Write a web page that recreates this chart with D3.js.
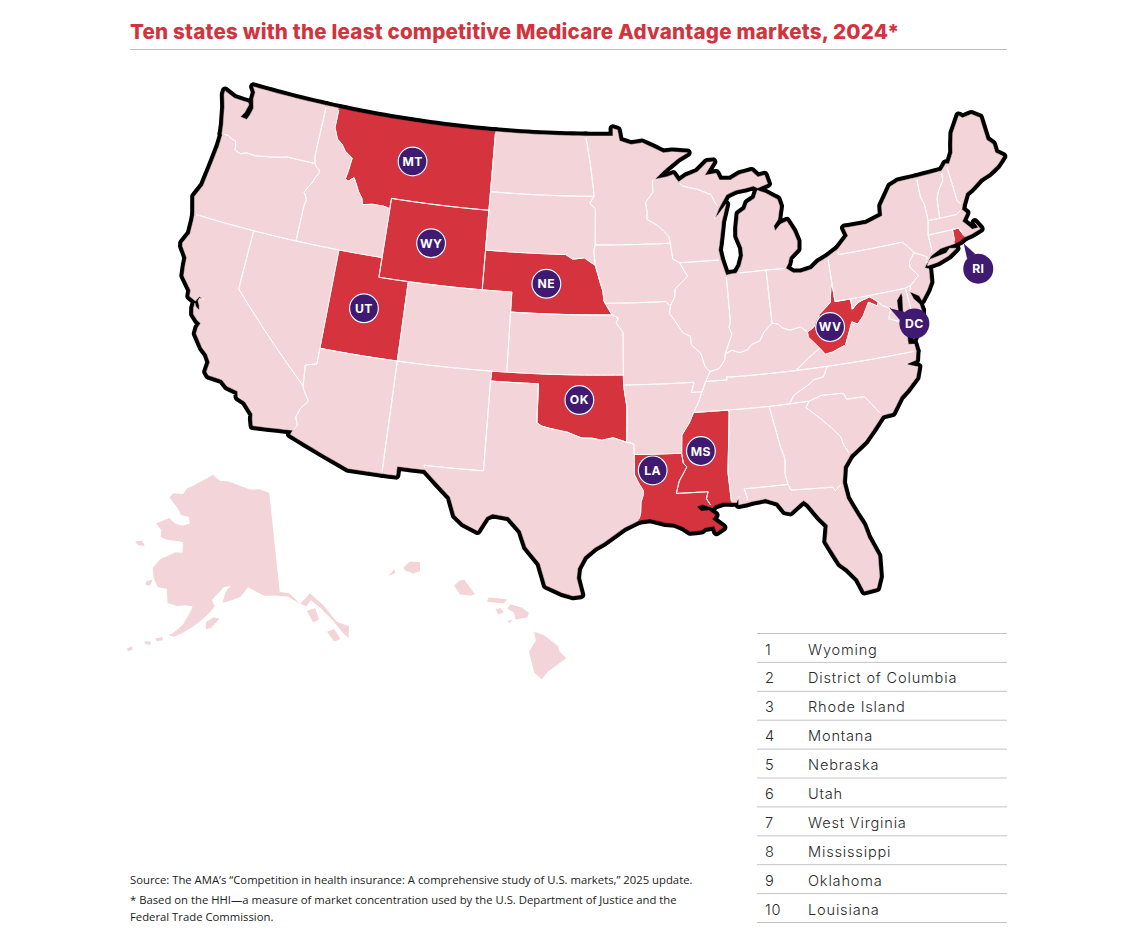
<!DOCTYPE html>
<html>
<head>
<meta charset="utf-8">
<script src="https://cdn.jsdelivr.net/npm/d3@7"></script>
<style>
  body { margin: 0; background: #fff; }
  svg { display: block; }
  .title { font-family: Inter, sans-serif; font-weight: 800; font-size: 20.6px; letter-spacing: 0.2px; fill: #d1343f; }
  .rank, .name { font-family: Inter, sans-serif; font-weight: 300; font-size: 14.6px; letter-spacing: 0.8px; fill: #2b2b2b; }
  .note { font-family: "Open Sans", sans-serif; font-size: 11.3px; fill: #222; }
  .badge text { font-family: Inter, sans-serif; font-weight: 700; font-size: 12.2px; letter-spacing: 0.4px; fill: #fff; text-anchor: middle; }
</style>
</head>
<body>
<script>
const titleText = "Ten states with the least competitive Medicare Advantage markets, 2024*";
const rankNames = ["Wyoming", "District of Columbia", "Rhode Island", "Montana", "Nebraska", "Utah", "West Virginia", "Mississippi", "Oklahoma", "Louisiana"];
const leastCompetitive = ["WY", "DC", "RI", "MT", "NE", "UT", "WV", "MS", "OK", "LA"];
const notes = [
  "Source: The AMA\u2019s \u201cCompetition in health insurance: A comprehensive study of U.S. markets,\u201d 2025 update.",
  "* Based on the HHI\u2014a measure of market concentration used by the U.S. Department of Justice and the",
  "Federal Trade Commission."
];

// badges, placed in lon/lat
const badgeCodes = ["MT", "WY", "UT", "NE", "OK", "LA", "MS", "WV", "DC", "RI"];
const badgeLon = [-109.95, -107.85, -111.7, -99.75, -97.4, -92.95, -90, -81.1, -75.7, -70.8];
const badgeLat = [47, 43.05, 39.35, 41.5, 35.75, 32.2, 33.05, 38.5, 37.9, 39.8];
const pointerCodes = ["DC", "RI"];
const pointerTips = [[-77.05, 38.9], [-71.3, 41.2]];

// shared borders
const columbia = [[-124, 46.26], [-123.5, 46.26], [-123.2, 46.15], [-122.9, 46.1], [-122.8, 45.9], [-122.75, 45.65], [-122.3, 45.55], [-121.9, 45.68], [-121.2, 45.65], [-120.6, 45.74], [-119.95, 45.82], [-119.3, 45.93], [-119, 46], [-116.92, 46]];
const snake = [[-116.92, 46], [-116.78, 45.85], [-116.55, 45.75], [-116.46, 45.6], [-116.67, 45.32], [-116.85, 44.98], [-117.05, 44.75], [-117.22, 44.47], [-117.03, 44.25], [-116.95, 44.1], [-117.03, 43.83], [-117.03, 42]];
const idMt = [[-116.05, 49], [-116.05, 48], [-115.7, 47.45], [-115.3, 47.25], [-114.95, 46.93], [-114.35, 46.65], [-114.45, 46], [-114.55, 45.56], [-114.33, 45.46], [-113.95, 45.7], [-113.8, 45.52], [-113.45, 45.05], [-113.13, 44.75], [-113, 44.45], [-112.3, 44.55], [-111.5, 44.55], [-111.05, 44.47]];
const redRiver = [[-94.48, 33.64], [-95.3, 33.87], [-96, 33.75], [-96.6, 33.85], [-97.2, 33.85], [-97.7, 34], [-98.1, 34.13], [-99.2, 34.3], [-99.7, 34.4], [-100, 34.56]];
const sabine = [[-94.04, 31.99], [-93.82, 31.6], [-93.53, 31.18], [-93.55, 31], [-93.7, 30.6], [-93.73, 30.1], [-93.85, 29.7]];
const azNv = [[-114.05, 36.2], [-114.75, 36.05], [-114.63, 35]];
const azCa = [[-114.63, 35], [-114.57, 34.85], [-114.13, 34.3], [-114.5, 33.9], [-114.7, 33.4], [-114.5, 33], [-114.72, 32.72]];
const neIa = [[-96.45, 42.49], [-96.25, 42], [-96.1, 41.6], [-95.92, 41.2], [-95.85, 40.7], [-95.77, 40.58]];
const sdNe = [[-96.45, 42.49], [-96.7, 42.6], [-97.2, 42.85], [-98, 42.77], [-98.5, 43], [-104.05, 43]];
const dakMn = [[-97.23, 49], [-97.1, 48.6], [-96.85, 47.6], [-96.6, 46.3], [-96.56, 45.94]];
const sdMn = [[-96.56, 45.94], [-96.85, 45.6], [-96.45, 45.3], [-96.45, 43.5]];
const sdIa = [[-96.45, 43.5], [-96.55, 43.2], [-96.45, 42.49]];
const mnWi = [[-92.1, 46.75], [-92.3, 46.66], [-92.29, 46.1], [-92.85, 45.6], [-92.75, 45.1], [-92.8, 44.75], [-92, 44.4], [-91.3, 43.85], [-91.22, 43.5]];
const iaWi = [[-91.22, 43.5], [-91.1, 42.7], [-90.65, 42.5]];
const iaIl = [[-90.65, 42.5], [-90.15, 41.8], [-91.05, 41.2], [-91.1, 40.8], [-91.42, 40.38]];
const iaMo = [[-91.42, 40.38], [-91.72, 40.6], [-95.77, 40.58]];
const moIl = [[-91.42, 40.38], [-91.5, 40], [-91, 39.4], [-90.7, 39], [-90.2, 38.8], [-90.2, 38.4], [-89.6, 37.9], [-89.4, 37.25], [-89.1, 36.98]];
const moAr = [[-89.7, 36], [-90.37, 36], [-90.15, 36.5], [-94.62, 36.5]];
const arTn = [[-89.7, 36], [-89.95, 35.5], [-90.3, 35]];
const arMs = [[-90.3, 35], [-90.6, 34.5], [-91.1, 33.9], [-91.17, 33]];
const laMs = [[-91.17, 33], [-91.1, 32.5], [-90.9, 32.3], [-91.4, 31.6], [-91.6, 31], [-89.73, 31], [-89.85, 30.65], [-89.55, 30.18]];
const ohioIl = [[-89.1, 36.98], [-88.5, 37.1], [-88.1, 37.5], [-88.05, 37.8]];
const ohioIn = [[-88.05, 37.8], [-87.6, 37.95], [-87.1, 37.8], [-86.6, 37.9], [-86.3, 38.15], [-85.75, 38.27], [-85.4, 38.7], [-84.82, 39.1]];
const ohioOh = [[-84.82, 39.1], [-84.4, 39], [-84.2, 38.8], [-83.7, 38.63], [-83, 38.73], [-82.6, 38.42]];
const ohWv = [[-82.6, 38.42], [-82.2, 38.6], [-81.75, 38.95], [-81.7, 39.2], [-80.85, 39.7], [-80.65, 40.4], [-80.52, 40.64]];
const kyWv = [[-82.6, 38.42], [-82.6, 38.17], [-81.97, 37.54]];
const kyVa = [[-81.97, 37.54], [-82.75, 37.15], [-83.68, 36.6]];
const vaWv = [[-81.97, 37.54], [-81.68, 37.2], [-81.2, 37.25], [-80.3, 37.5], [-79.65, 38.58], [-79.3, 38.42], [-78.87, 38.76], [-78.35, 39.4], [-77.83, 39.13], [-77.72, 39.32]];
const mdWv = [[-77.72, 39.32], [-78.2, 39.65], [-78.75, 39.55], [-79.05, 39.47], [-79.48, 39.2]];
const tnNc = [[-81.68, 36.59], [-82, 36.1], [-82.6, 36.03], [-83.1, 35.77], [-84, 35.4], [-84.32, 34.99]];
const ncSc = [[-83.1, 35], [-82.3, 35.2], [-81.05, 35.15], [-80.9, 35.1], [-80.8, 34.82], [-79.67, 34.8], [-78.8, 33.72]];
const gaSc = [[-83.1, 35], [-83.35, 34.7], [-82.6, 34.1], [-81.95, 33.5], [-81.5, 33], [-81.4, 32.6], [-81.1, 32.03]];
const alGa = [[-85.6, 34.98], [-85.18, 32.87], [-85, 32.3], [-85.1, 31.55], [-85, 31]];
const nhVt = [[-71.5, 45.01], [-71.6, 44.5], [-72.05, 44.1], [-72.3, 43.7], [-72.46, 42.73]];
const meNh = [[-71.08, 45.3], [-71.03, 44.65], [-70.98, 43.35], [-70.7, 43.07]];
const paNj = [[-74.7, 41.36], [-75.13, 40.98], [-75.2, 40.7], [-74.75, 40.2], [-75.4, 39.8]];
const rev = a => a.slice().reverse();

// state outlines, lon/lat
const stateRings = {
  WA: [[[-124, 46.26], [-124.1, 46.7], [-124.2, 47], [-124.4, 47.6], [-124.7, 48.2], [-124.7, 48.38], [-123.9, 48.17], [-123.2, 48.15], [-122.8, 48.15], [-122.7, 48.05], [-122.85, 47.6], [-123.05, 47.35], [-122.55, 47.3], [-122.4, 47.6], [-122.3, 47.95], [-122.5, 48.4], [-122.5, 48.75], [-122.75, 49], [-117.03, 49], [-117.04, 46.42], ...rev(columbia)]],
  OR: [[...columbia, ...snake, [-124.2, 42], [-124.55, 42.84], [-124.2, 43.5], [-124.05, 44.7], [-123.95, 45.6], [-123.95, 46.2]]],
  CA: [[[-124.2, 42], [-120, 42], [-120, 39], ...azCa, [-117.12, 32.53], [-117.25, 32.85], [-117.3, 33.1], [-117.9, 33.6], [-118.4, 33.75], [-118.5, 34.03], [-119.2, 34.15], [-119.6, 34.4], [-120.47, 34.45], [-120.65, 34.6], [-120.6, 35.1], [-120.9, 35.45], [-121.3, 35.7], [-121.9, 36.3], [-121.9, 36.6], [-121.8, 36.85], [-122.05, 36.95], [-122.4, 37.2], [-122.5, 37.5], [-122.5, 37.75], [-122.38, 37.6], [-122.1, 37.45], [-122.2, 37.7], [-122.35, 37.9], [-122.3, 38.05], [-122, 38.05], [-122.35, 38.12], [-122.5, 37.85], [-122.95, 38], [-123, 38.3], [-123.7, 38.9], [-123.8, 39.4], [-123.85, 39.8], [-124.35, 40.3], [-124.4, 40.45], [-124.1, 41], [-124.15, 41.7]]],
  NV: [[[-120, 42], [-114.04, 42], [-114.05, 37], ...azNv, [-120, 39]]],
  ID: [[[-117.03, 49], ...idMt, [-111.05, 42], ...rev(snake), [-117.04, 46.42]]],
  MT: [[...idMt, [-111.05, 45], [-104.05, 45], [-104.05, 49]]],
  WY: [[[-111.05, 45], [-104.05, 45], [-104.05, 41], [-111.05, 41]]],
  UT: [[[-114.04, 42], [-111.05, 42], [-111.05, 41], [-109.05, 41], [-109.05, 37], [-114.05, 37]]],
  AZ: [[[-114.05, 37], [-109.05, 37], [-109.05, 31.33], [-111.07, 31.33], [-114.81, 32.5], ...rev(azCa), ...rev(azNv)]],
  CO: [[[-109.05, 41], [-102.05, 41], [-102.05, 37], [-109.05, 37]]],
  NM: [[[-109.05, 37], [-103, 37], [-103.04, 36.5], [-103.06, 32], [-106.62, 32], [-106.53, 31.78], [-108.2, 31.78], [-108.2, 31.33], [-109.05, 31.33]]],
  ND: [[[-104.05, 49], ...dakMn, [-104.05, 45.94]]],
  SD: [[[-104.05, 45.94], ...sdMn, ...sdIa, ...sdNe]],
  NE: [[...rev(sdNe), ...neIa, [-95.31, 40], [-102.05, 40], [-102.05, 41], [-104.05, 41]]],
  KS: [[[-102.05, 40], [-95.31, 40], [-94.9, 39.85], [-95.05, 39.6], [-94.6, 39.12], [-94.62, 37], [-102.04, 37]]],
  OK: [[[-103, 37], [-94.62, 37], [-94.62, 36.5], [-94.43, 35.4], ...redRiver, [-100, 36.5], [-103.04, 36.5]]],
  TX: [[[-103.04, 36.5], [-100, 36.5], ...rev(redRiver), [-94.04, 33.55], [-94.04, 33.02], ...sabine, [-94.7, 29.35], [-95.1, 29.1], [-95.9, 28.6], [-96.4, 28.35], [-97, 27.9], [-97.35, 27.3], [-97.4, 26.8], [-97.15, 25.96], [-97.6, 25.9], [-98.2, 26.05], [-99.1, 26.4], [-99.5, 27.5], [-100.3, 28.3], [-100.65, 29.1], [-101.4, 29.77], [-102.35, 29.87], [-102.7, 29.7], [-103.15, 28.98], [-104, 29.3], [-104.5, 29.65], [-104.9, 30.55], [-106.53, 31.78], [-106.62, 32], [-103.06, 32]]],
  MN: [[...dakMn, ...sdMn.slice(1), [-91.22, 43.5], ...rev(mnWi).slice(1), [-91.3, 47.25], [-90.3, 47.75], [-89.6, 48], [-90.75, 48.1], [-91.4, 48.07], [-92, 48.3], [-92.95, 48.62], [-93.8, 48.55], [-94.65, 48.75], [-94.8, 49.3], [-95.15, 49.38], [-95.15, 49]]],
  IA: [[[-96.45, 43.5], [-91.22, 43.5], ...iaWi, ...iaIl, ...iaMo, ...rev(neIa), ...rev(sdIa).slice(0, -1)]],
  MO: [[[-95.77, 40.58], ...rev(iaMo).slice(1), ...moIl, [-89.42, 36.5], ...moAr, [-94.62, 37], [-94.6, 39.12], [-95.05, 39.6], [-94.9, 39.85], [-95.31, 40]]],
  AR: [[[-94.62, 36.5], ...rev(moAr).slice(1), ...arTn, ...arMs, [-94.04, 33.02], [-94.04, 33.55], [-94.48, 33.64], [-94.43, 35.4]]],
  LA: [[[-94.04, 33.02], ...laMs, [-89.6, 30.2], [-90.1, 30.37], [-90.45, 30.28], [-90.2, 30.05], [-89.75, 30.05], [-89.4, 29.8], [-89.6, 29.6], [-89.2, 29.3], [-89, 29.15], [-89.4, 28.95], [-89.5, 29.25], [-90.05, 29.2], [-90.25, 29.08], [-90.9, 29.05], [-91.3, 29.3], [-91.8, 29.5], [-92.3, 29.55], [-93.2, 29.77], ...rev(sabine)]],
  MS: [[[-88.2, 35], [-88.1, 34.9], [-88.47, 31.9], [-88.4, 30.37], [-88.9, 30.4], [-89.35, 30.3], ...rev(laMs), ...rev(arMs)]],
  WI: [[...mnWi, ...iaWi.slice(1), [-87.8, 42.5], [-87.9, 43], [-87.8, 43.3], [-87.55, 44.2], [-87.5, 44.4], [-87.1, 45.25], [-88, 44.55], [-87.6, 45.1], [-87.85, 45.35], [-88.1, 45.8], [-89.1, 46.13], [-90.1, 46.33], [-90.4, 46.55], [-90.75, 46.95], [-91.2, 46.85]]],
  IL: [[[-90.65, 42.5], [-87.8, 42.5], [-87.53, 41.7], [-87.53, 39.35], [-87.65, 39.1], [-87.5, 38.75], ...rev(ohioIl), ...rev(moIl), ...rev(iaIl).slice(1)]],
  IN: [[[-87.53, 41.7], [-87.2, 41.75], [-86.82, 41.76], [-84.8, 41.76], ...rev(ohioIn), [-87.5, 38.75], [-87.65, 39.1], [-87.53, 39.35]]],
  OH: [[[-84.8, 41.76], [-83.45, 41.72], [-83, 41.45], [-82.5, 41.4], [-81.7, 41.5], [-81.2, 41.78], [-80.52, 41.98], [-80.52, 40.64], ...rev(ohWv).slice(1), ...rev(ohioOh).slice(1)]],
  KY: [[[-89.42, 36.5], ...ohioIl, ...ohioIn.slice(1), ...ohioOh.slice(1), ...kyWv.slice(1), ...kyVa.slice(1), [-87.85, 36.63], [-88.07, 36.68], [-88.07, 36.5]]],
  TN: [[[-89.42, 36.5], [-88.07, 36.5], [-88.07, 36.68], [-87.85, 36.63], [-83.68, 36.6], ...tnNc, [-85.6, 34.98], [-88.2, 35], ...rev(arTn)]],
  AL: [[[-88.2, 35], ...alGa, [-87.6, 31], [-87.45, 30.5], [-87.5, 30.28], [-88, 30.23], [-87.95, 30.65], [-88.1, 30.35], [-88.4, 30.37], [-88.47, 31.9], [-88.1, 34.9]]],
  GA: [[...alGa.slice(0, 1), [-84.32, 34.99], ...gaSc, [-81.6, 31.5], [-81.8, 30.72], [-82.3, 30.37], [-82.4, 30.57], [-84.86, 30.7], ...rev(alGa).slice(0, -1)]],
  FL: [[[-87.6, 31], [-85, 31], [-84.86, 30.7], [-82.4, 30.57], [-82.3, 30.37], [-81.8, 30.72], [-81.7, 29.9], [-81.3, 29.05], [-81, 28.45], [-80.85, 27.8], [-80.45, 26.8], [-80.55, 25.75], [-80.8, 25.2], [-81.5, 25.13], [-81.75, 25.8], [-82.25, 26.4], [-82.6, 26.7], [-83.05, 27.6], [-83.2, 27.9], [-83, 28.7], [-83.4, 29.15], [-83.95, 29.9], [-84.2, 30.1], [-84.35, 30.03], [-85.05, 29.6], [-85.35, 29.68], [-85.7, 30.15], [-86.4, 30.4], [-87.2, 30.33], [-87.5, 30.28], [-87.45, 30.5]]],
  SC: [[...ncSc, [-79.5, 33.1], [-80.1, 32.6], [-80.8, 32.2], ...rev(gaSc).slice(0, -1)]],
  NC: [[[-84.32, 34.99], ...rev(tnNc).slice(1), [-75.95, 36.55], [-76.1, 36.1], [-76.75, 36], [-76.05, 35.75], [-76.3, 35.25], [-77, 34.75], [-77.5, 34.45], [-78.15, 33.75], ...rev(ncSc)]],
  VA: [[...rev(kyVa), ...vaWv, [-77.5, 39.1], [-77.12, 38.93], [-77.04, 38.79], [-77.25, 38.4], [-77, 38.3], [-76.35, 38.05], [-76.3, 37.9], [-76.3, 37.5], [-76.35, 36.95], [-75.98, 36.9], [-75.95, 36.55], [-81.68, 36.59]], [[-75.65, 37.95], [-75.2, 38.03], [-75.95, 37.15]]],
  WV: [[[-80.52, 40.64], [-80.52, 39.72], [-79.48, 39.72], ...rev(mdWv), ...rev(vaWv), ...rev(kyWv).slice(1), ...ohWv.slice(1)]],
  MD: [[[-79.48, 39.72], [-75.79, 39.72], [-75.7, 38.46], [-75.05, 38.45], [-75.2, 38.03], [-75.65, 37.95], [-75.9, 38.2], [-76.25, 38.6], [-76.1, 39.3], [-76.1, 39.55], [-76.5, 39.2], [-76.55, 38.7], [-76.4, 38.3], [-76.35, 38.05], [-77, 38.3], [-77.25, 38.4], [-77.04, 38.79], [-76.91, 38.89], [-77.04, 38.995], [-77.12, 38.93], [-77.5, 39.1], ...mdWv]],
  DC: [[[-77.12, 38.93], [-77.04, 38.79], [-76.91, 38.89], [-77.04, 38.995]]],
  DE: [[[-75.79, 39.72], [-75.4, 39.8], [-75.55, 39.5], [-75.4, 39.1], [-75.1, 38.8], [-75.05, 38.45], [-75.7, 38.46]]],
  PA: [[[-80.52, 41.98], [-80.1, 42.15], [-79.76, 42.27], [-79.76, 42], [-75.35, 42], [-75.05, 41.75], ...paNj, [-75.79, 39.72], [-79.48, 39.72], [-80.52, 39.72], [-80.52, 40.64]]],
  NJ: [[...paNj, [-75.55, 39.5], [-75, 39.2], [-74.9, 38.95], [-74.4, 39.4], [-74.1, 39.75], [-73.98, 40.4], [-74.25, 40.5], [-73.9, 41]]],
  NY: [[[-79.76, 42.27], [-78.9, 42.85], [-79.05, 43.27], [-77.5, 43.25], [-76.3, 43.5], [-76.2, 44], [-75.3, 44.85], [-74.7, 45], [-73.35, 45], [-73.4, 44], [-73.25, 43.6], [-73.27, 42.75], [-73.5, 42.05], [-73.5, 41.3], [-73.65, 41], [-73.95, 40.75], [-74.25, 40.5], [-73.9, 41], [-74.7, 41.36], [-75.05, 41.75], [-75.35, 42], [-79.76, 42]],
       [[-74.03, 40.6], [-73.75, 40.85], [-72.6, 40.97], [-72.3, 41.15], [-71.87, 41.07], [-72.5, 40.8], [-73.3, 40.62], [-74, 40.57]]],
  CT: [[[-73.5, 42.05], [-71.8, 42.02], [-71.86, 41.32], [-72.9, 41.25], [-73.65, 41], [-73.5, 41.3]]],
  RI: [[[-71.8, 42.02], [-71.38, 42.02], [-71.2, 41.68], [-71.12, 41.5], [-71.5, 41.37], [-71.86, 41.32]]],
  MA: [[[-73.5, 42.05], [-73.27, 42.75], [-72.46, 42.73], [-71.3, 42.7], [-70.82, 42.87], [-70.6, 42.65], [-71, 42.3], [-70.65, 41.95], [-70.5, 41.78], [-70.05, 41.78], [-70.2, 42.07], [-69.95, 41.7], [-70.65, 41.55], [-71.12, 41.5], [-71.2, 41.68], [-71.38, 42.02], [-71.8, 42.02]]],
  VT: [[[-73.35, 45], ...nhVt, [-73.27, 42.75], [-73.25, 43.6], [-73.4, 44]]],
  NH: [[...nhVt, [-71.3, 42.7], [-70.82, 42.87], ...rev(meNh)]],
  ME: [[...meNh, [-70.25, 43.6], [-69.8, 43.75], [-69, 44.1], [-68.3, 44.25], [-67.6, 44.5], [-67, 44.85], [-67.45, 45.15], [-67.45, 45.6], [-67.78, 45.9], [-67.79, 47.07], [-68.3, 47.35], [-69, 47.3], [-69.23, 47.46], [-70, 46.7], [-70.25, 46.15], [-70.4, 45.75], [-70.85, 45.25]]],
  MI: [[[-86.82, 41.76], [-86.5, 42.1], [-86.25, 42.6], [-86.25, 43], [-86.5, 43.6], [-86.45, 44], [-86.25, 44.7], [-85.75, 44.9], [-85.55, 45.2], [-85, 45.4], [-84.75, 45.78], [-84.2, 45.6], [-83.4, 45.2], [-83.3, 44.85], [-83.55, 44.2], [-83.9, 43.9], [-83.85, 43.65], [-83.4, 43.95], [-82.95, 44.05], [-82.6, 43.5], [-82.42, 43], [-82.5, 42.6], [-83.1, 42.25], [-83.25, 41.95], [-83.45, 41.72], [-84.8, 41.76]],
       [[-90.4, 46.55], [-89.8, 46.8], [-88.95, 47], [-88.2, 47.45], [-87.75, 47.45], [-88.45, 46.8], [-87.6, 46.85], [-87.4, 46.5], [-86.6, 46.45], [-85.9, 46.68], [-85, 46.77], [-84.6, 46.45], [-84.1, 46.5], [-83.95, 46.05], [-84.7, 45.9], [-85, 46.02], [-85.6, 45.95], [-86.3, 45.9], [-86.7, 45.8], [-87, 45.72], [-87.6, 45.1], [-87.85, 45.35], [-88.1, 45.8], [-89.1, 46.13], [-90.1, 46.33]]]
};

const alaskaRings = [
  [[-141, 69.65], [-143.5, 70.1], [-146, 70.1], [-149, 70.5], [-152, 70.85], [-154.5, 70.85], [-156.6, 71.35], [-158.5, 70.85], [-160.5, 70.3], [-163, 69.6], [-163.7, 69], [-166.2, 68.85], [-166.8, 68.35], [-164.2, 67.6], [-163, 67.05], [-161, 67], [-160.5, 66.4], [-162, 66.1], [-163.8, 66.1], [-165.5, 66.5], [-168.1, 65.65], [-166.5, 65.2], [-166.3, 64.6], [-165, 64.45], [-163, 64.55], [-161.2, 64.6], [-160.9, 63.6], [-162.3, 63.5], [-163.5, 63.1], [-165, 62.6], [-166.1, 61.6], [-165.3, 60.6], [-164.2, 59.95], [-162.5, 60], [-162, 59.1], [-161.8, 58.7], [-160, 58.6], [-158.5, 58.8], [-157.2, 58.8], [-157.5, 58.2], [-158.5, 56.9], [-160, 55.95], [-160.6, 55.8], [-159.6, 55.7], [-158, 56.3], [-156.5, 57], [-155, 57.8], [-154, 58.4], [-153.2, 59], [-153.8, 59.6], [-152.5, 60.4], [-151.8, 60.85], [-150.3, 61.05], [-151, 60.7], [-151.4, 60.3], [-151.8, 59.4], [-150, 59.7], [-148.5, 60], [-147, 60.9], [-145.5, 60.5], [-144, 60.05], [-142, 60], [-139.5, 59.75], [-137.5, 58.95], [-139.2, 60.05], [-141, 60.3]],
  [[-137.5, 58.95], [-136.5, 58.6], [-135.5, 59.1], [-134, 58.2], [-132.4, 56.8], [-131.3, 55.5], [-130.6, 54.85], [-130, 55.9], [-131.8, 56.6], [-133.4, 58.4], [-135.4, 59.75]],
  [[-136.5, 58.2], [-135, 58.3], [-134.7, 57.2], [-135.8, 57]],
  [[-133.8, 55.9], [-132.5, 56], [-131.9, 54.95], [-133, 54.85]],
  [[-154.5, 57.5], [-153.2, 58], [-152.2, 57.9], [-153.5, 57], [-154.4, 56.8]],
  [[-171.2, 63.4], [-169.8, 63.7], [-168.9, 63.3], [-170.3, 63.2]],
  [[-166.6, 60.2], [-165.5, 60.5], [-165.7, 59.9], [-166.6, 59.85]],
  [[-162.6, 55.2], [-161.5, 55.5], [-161.3, 55.2], [-162.2, 55]],
  [[-164.2, 54.7], [-163.1, 54.85], [-163.2, 54.5], [-164, 54.5]],
  [[-166.6, 53.6], [-165.9, 54], [-165.7, 53.7], [-166.3, 53.4]]
];

const hawaiiRings = [
  [[-159.8, 22.05], [-159.6, 22.22], [-159.3, 22.2], [-159.3, 21.95], [-159.5, 21.88], [-159.75, 21.97]],
  [[-160.25, 21.8], [-160.05, 22], [-160.05, 21.88]],
  [[-158.28, 21.55], [-158.1, 21.7], [-157.97, 21.71], [-157.65, 21.3], [-157.8, 21.27], [-158.1, 21.3]],
  [[-157.3, 21.1], [-157.25, 21.22], [-156.7, 21.17], [-156.8, 21.05]],
  [[-157.05, 20.88], [-156.9, 20.92], [-156.8, 20.8], [-156.95, 20.74]],
  [[-156.7, 20.9], [-156.6, 21.03], [-156.25, 20.93], [-156.05, 20.78], [-156.1, 20.65], [-156.45, 20.6], [-156.5, 20.8]],
  [[-156.7, 20.55], [-156.55, 20.6], [-156.6, 20.5]],
  [[-155.9, 20.25], [-155.6, 20.15], [-155.2, 19.85], [-155.15, 19.7], [-154.95, 19.5], [-155.5, 19.13], [-155.68, 18.92], [-155.9, 19.1], [-156.05, 19.7], [-155.85, 20]]
];

const PALE = "#f3d4d8", RED = "#d5343f", PURPLE = "#3f1a70";

const svg = d3.select("body").append("svg").attr("width", 1131).attr("height", 938);

const lower48 = d3.geoAlbers().scale(1138).translate([592.5, 341]);
const alaska = d3.geoConicEqualArea().rotate([148, 0]).center([0, 60]).parallels([55, 65]).scale(610).translate([243, 597]);
const hawaii = d3.geoConicEqualArea().rotate([157, 0]).center([0, 20.5]).parallels([8, 18]).scale(2050).translate([497, 623]);

// long straight runs (49th parallel etc) must curve with the projection
function densify(ring) {
  const out = [];
  ring.forEach((p, i) => {
    const q = ring[(i + 1) % ring.length];
    const n = Math.max(1, Math.ceil(Math.max(Math.abs(q[0] - p[0]), Math.abs(q[1] - p[1])) / 0.5));
    for (let k = 0; k < n; k++) out.push([p[0] + (q[0] - p[0]) * k / n, p[1] + (q[1] - p[1]) * k / n]);
  });
  return out;
}
const line = d3.line();
const pathOf = (rings, proj) => rings.map(r => line(densify(r).map(proj)) + "Z").join("");

const stateList = Object.keys(stateRings).map(id => ({ id, d: pathOf(stateRings[id], lower48) }));

const defs = svg.append("defs");
const erode = defs.append("filter").attr("id", "erode").attr("filterUnits", "userSpaceOnUse")
  .attr("x", 0).attr("y", 0).attr("width", 1131).attr("height", 938);
erode.append("feMorphology").attr("operator", "erode").attr("radius", 1.5);
defs.append("mask").attr("id", "inland").attr("maskUnits", "userSpaceOnUse")
  .attr("x", 0).attr("y", 0).attr("width", 1131).attr("height", 938)
  .append("g").attr("filter", "url(#erode)")
  .selectAll("path").data(stateList).join("path")
  .attr("d", d => d.d).attr("fill", "#fff").attr("stroke", "#fff").attr("stroke-width", 0.8);

// black coast: a fat stroke under everything
svg.append("g").selectAll("path").data(stateList).join("path")
  .attr("d", d => d.d).attr("fill", "#000").attr("stroke", "#000")
  .attr("stroke-width", 8.6).attr("stroke-linejoin", "round");

const colorOf = d => leastCompetitive.includes(d.id) ? RED : PALE;
svg.append("g").selectAll("path").data(stateList).join("path")
  .attr("d", d => d.d).attr("fill", colorOf).attr("stroke", colorOf).attr("stroke-width", 0.5);

svg.append("g").attr("mask", "url(#inland)").selectAll("path").data(stateList).join("path")
  .attr("d", d => d.d).attr("fill", "none").attr("stroke", "#fff").attr("stroke-width", 1);

svg.append("path").attr("d", pathOf(alaskaRings, alaska)).attr("fill", PALE);
svg.append("path").attr("d", pathOf(hawaiiRings, hawaii)).attr("fill", PALE);

// badges
const badges = badgeCodes.map((code, i) => {
  const [x, y] = lower48([badgeLon[i], badgeLat[i]]);
  const t = pointerCodes.indexOf(code);
  return { code, x, y, tip: t < 0 ? null : lower48(pointerTips[t]) };
});
const R = 15;
const badge = svg.append("g").selectAll("g").data(badges).join("g").attr("class", "badge");
badge.filter(d => d.tip).append("path").attr("fill", PURPLE).attr("d", d => {
  const a = Math.atan2(d.tip[1] - d.y, d.tip[0] - d.x);
  const s = 0.32;
  return line([[d.x + R * Math.cos(a - s), d.y + R * Math.sin(a - s)], d.tip, [d.x + R * Math.cos(a + s), d.y + R * Math.sin(a + s)]]) + "Z";
});
badge.append("circle").attr("cx", d => d.x).attr("cy", d => d.y).attr("r", R).attr("fill", PURPLE);
badge.filter(d => !d.tip).append("circle").attr("cx", d => d.x).attr("cy", d => d.y).attr("r", R - 0.6)
  .attr("fill", "none").attr("stroke", "#fff").attr("stroke-width", 1.2);
badge.append("text").attr("x", d => d.x).attr("y", d => d.y + 4.4).text(d => d.code);

// title
svg.append("text").attr("class", "title").attr("x", 130).attr("y", 39).text(titleText);
svg.append("line").attr("x1", 130).attr("x2", 1007).attr("y1", 49.5).attr("y2", 49.5).attr("stroke", "#bdbdbd");

// ranking table
const rowY = d3.scaleLinear().domain([0, rankNames.length]).range([633.5, 922.5]);
svg.append("g").selectAll("line").data(d3.range(rankNames.length + 1)).join("line")
  .attr("x1", 757).attr("x2", 1007).attr("y1", d => rowY(d)).attr("y2", d => rowY(d)).attr("stroke", "#c4c4c4");
const rows = svg.append("g").selectAll("g").data(rankNames).join("g");
rows.append("text").attr("class", "rank").attr("x", 765).attr("y", (d, i) => rowY(i) + 21).text((d, i) => i + 1);
rows.append("text").attr("class", "name").attr("x", 808).attr("y", (d, i) => rowY(i) + 21).text(d => d);

// footnotes
const noteY = [884, 904, 921];
svg.append("g").selectAll("text").data(notes).join("text").attr("class", "note")
  .attr("x", 130).attr("y", (d, i) => noteY[i]).text(d => d);
</script>
</body>
</html>
